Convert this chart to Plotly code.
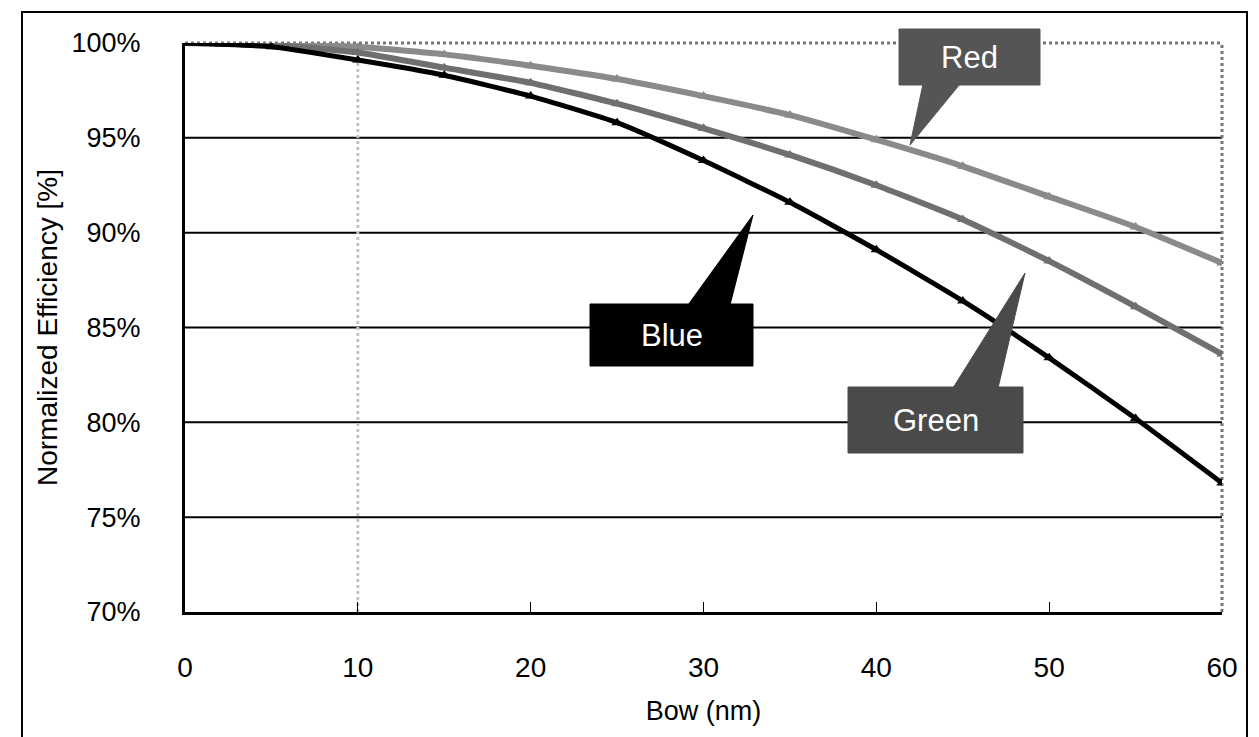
import plotly.graph_objects as go

# ---- data ----
bow_nm = [0, 5, 10, 15, 20, 25, 30, 35, 40, 45, 50, 55, 60]
red_eff = [100, 99.95, 99.8, 99.4, 98.8, 98.1, 97.2, 96.2, 94.9, 93.5, 91.9, 90.3, 88.4]
green_eff = [100, 99.9, 99.5, 98.7, 97.9, 96.8, 95.5, 94.1, 92.5, 90.7, 88.5, 86.1, 83.6]
blue_eff = [100, 99.8, 99.1, 98.3, 97.2, 95.8, 93.8, 91.6, 89.1, 86.4, 83.4, 80.2, 76.8]
x_ticks = [0, 10, 20, 30, 40, 50, 60]
y_ticks = [70, 75, 80, 85, 90, 95, 100]
y_tick_text = ["70%", "75%", "80%", "85%", "90%", "95%", "100%"]
grid_vals = [75, 80, 85, 90, 95]

W, H = 1259, 737
L, R, T, B = 185, 1222, 43, 612
FONT = "Liberation Sans, Arial, sans-serif"


def px(x):
    return (x - L) / (R - L)


def py(y):
    return (B - y) / (B - T)


fig = go.Figure()
series = [
    ("Red", red_eff, "#8a8a8a", 6),
    ("Green", green_eff, "#6f6f6f", 6),
    ("Blue", blue_eff, "#000000", 5),
]
for name, vals, col, w in series:
    fig.add_trace(go.Scatter(
        x=bow_nm, y=vals, mode="lines+markers", name=name,
        line=dict(color=col, width=w, shape="spline", smoothing=0.5),
        marker=dict(symbol="triangle-up", size=10, color=col),
        showlegend=False,
    ))

shapes = []
# grid lines
for g in grid_vals:
    shapes.append(dict(type="line", xref="paper", yref="y", x0=0, x1=1, y0=g, y1=g,
                       line=dict(color="black", width=2), layer="below"))
# dotted top / right borders
shapes.append(dict(type="line", xref="paper", yref="paper", x0=0, x1=1, y0=1, y1=1,
                   line=dict(color="#777", width=3, dash="dot"), layer="below"))
shapes.append(dict(type="line", xref="paper", yref="paper", x0=1, x1=1, y0=0, y1=1,
                   line=dict(color="#777", width=3, dash="dot"), layer="below"))
# faint dotted vertical at x=10 (scan artefact)
shapes.append(dict(type="line", xref="x", yref="paper", x0=10, x1=10, y0=0, y1=0.97,
                   line=dict(color="#c4c4c4", width=3, dash="dot"), layer="below"))
# outer frame
shapes.append(dict(type="rect", xref="paper", yref="paper",
                   x0=px(22), x1=px(1247), y0=py(12), y1=py(800),
                   line=dict(color="black", width=2), fillcolor="rgba(0,0,0,0)"))


def callout(x0, y0, x1, y1, bx0, bx1, by, tipx, tipy, color, text, tsize=31):
    path = (f"M {px(bx0)} {py(by)} L {px(tipx)} {py(tipy)} L {px(bx1)} {py(by)} Z")
    shapes.append(dict(type="path", xref="paper", yref="paper", path=path,
                       fillcolor=color, line=dict(color=color, width=1)))
    shapes.append(dict(type="rect", xref="paper", yref="paper",
                       x0=px(x0), x1=px(x1), y0=py(y0), y1=py(y1),
                       fillcolor=color, line=dict(color=color, width=1)))
    fig.add_annotation(xref="paper", yref="paper", x=px((x0 + x1) / 2), y=py((y0 + y1) / 2),
                       xanchor="center", yanchor="middle",
                       text=text, showarrow=False,
                       font=dict(family=FONT, size=tsize, color="white"))


callout(899, 29, 1040, 85, 923, 960, 84, 910, 145, "#555555", "Red")
callout(590, 304, 753, 366, 688, 730, 305, 753, 215, "#000000", "Blue")
callout(848, 387, 1023, 453, 953, 998, 388, 1025, 273, "#4a4a4a", "Green")

fig.update_layout(
    width=W, height=H,
    margin=dict(l=L, r=W - R, t=T, b=H - B),
    plot_bgcolor="white", paper_bgcolor="white",
    shapes=shapes,
    font=dict(family=FONT, size=26, color="black"),
    xaxis=dict(
        range=[0, 60], tickvals=x_ticks, showgrid=False, zeroline=False,
        showline=True, linecolor="black", linewidth=3,
        ticks="inside", ticklen=10, tickwidth=1, tickcolor="black",
        ticklabelstandoff=28,
        tickfont=dict(family=FONT, size=28),
        title=dict(text="Bow (nm)", font=dict(family=FONT, size=27), standoff=20),
    ),
    yaxis=dict(
        range=[70, 100], tickvals=y_ticks, ticktext=y_tick_text,
        showgrid=False, zeroline=False,
        showline=True, linecolor="black", linewidth=3,
        ticks="", ticklabelstandoff=36,
        tickfont=dict(family=FONT, size=27),
        title=dict(text="Normalized Efficiency [%]", font=dict(family=FONT, size=28), standoff=6),
    ),
)

fig.write_html("out.html")
